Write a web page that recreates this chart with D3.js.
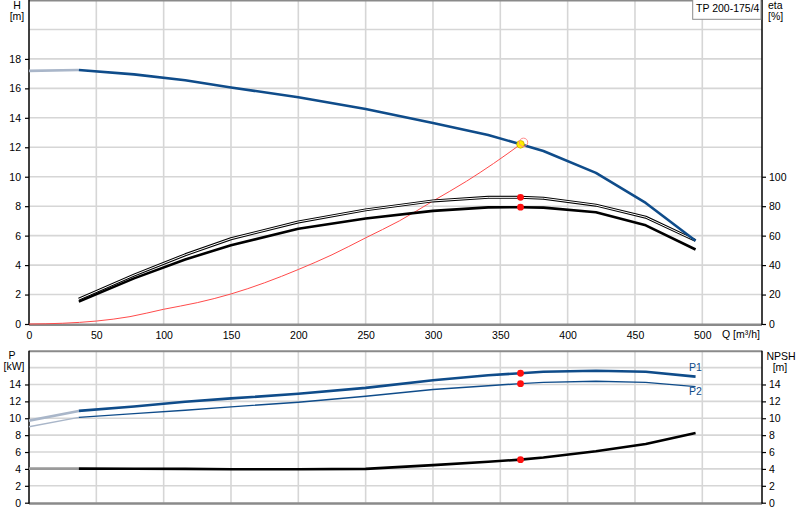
<!DOCTYPE html>
<html>
<head>
<meta charset="utf-8">
<script src="https://cdn.jsdelivr.net/npm/d3@7/dist/d3.min.js"></script>
<style>
  html, body { margin: 0; padding: 0; background: #fff; }
  svg text { font-family: "Liberation Sans", Arial, sans-serif; font-size: 10.5px; fill: #000; }
</style>
</head>
<body>
<div id="chart"></div>
<script>
// ---- data ----
const pumpName = 'TP 200-175/4';
const qTicks = [0, 50, 100, 150, 200, 250, 300, 350, 400, 450, 500];
const hTicks = [0, 2, 4, 6, 8, 10, 12, 14, 16, 18];
const etaTicks = [0, 20, 40, 60, 80, 100];
const pTicks = [0, 2, 4, 6, 8, 10, 12, 14];
const npshTicks = [0, 2, 4, 6, 8, 10, 12, 14];

// flow points of the pump curves (first point is the extrapolated part)
const qCurve = [0, 37, 78, 116, 150, 200, 250, 300, 341, 365, 382, 421, 458, 495];
const headValues = [17.19, 17.25, 16.95, 16.55, 16.06, 15.4, 14.6, 13.65, 12.84, 12.2, 11.75, 10.26, 8.22, 5.65];
const p1Values = [9.72, 10.87, 11.4, 11.95, 12.35, 12.9, 13.6, 14.5, 15.1, 15.33, 15.5, 15.62, 15.5, 14.93];
const p2Values = [9.0, 10.1, 10.55, 10.95, 11.35, 11.9, 12.6, 13.4, 13.85, 14.1, 14.25, 14.38, 14.25, 13.75];
const npshValues = [4.03, 4.03, 4.02, 4.0, 3.97, 3.96, 4.0, 4.45, 4.85, 5.1, 5.35, 6.1, 6.95, 8.26];

// efficiency curves start at the first real point
const qEta = [37, 78, 116, 150, 200, 250, 300, 341, 365, 382, 421, 458, 495];
const etaUpper = [16.9, 33.2, 47.0, 57.9, 69.3, 77.5, 83.6, 86.0, 86.0, 85.4, 80.7, 72.5, 56.7];
const etaLower = [15.2, 31.0, 43.8, 53.5, 64.7, 71.6, 76.8, 79.2, 79.3, 79.0, 75.9, 67.0, 50.6];

// system curve up to the duty point
const qSystem = [0, 25, 50, 75, 100, 125, 150, 175, 200, 225, 250, 275, 300, 325, 345, 365];
const hSystem = [0, 0.05, 0.2, 0.5, 1.0, 1.45, 2.04, 2.8, 3.7, 4.7, 5.85, 7.0, 8.35, 9.7, 10.9, 12.2];

// duty point
const dutyQ = 365;
const dutyH = 12.2;
const dutyEta = [86.0, 79.3];
const dutyP = [15.33, 14.1];
const dutyNpsh = 5.1;

// ---- layout ----
const width = 800, height = 520;
const left = 29, right = 762;
const topY0 = 324, topY1 = 0;
const botY0 = 502.7, botY1 = 350.7;

const blue = '#0f4c8a';
const blueLight = '#a9b6c9';
const grid = '#d6d6d6';
const axisGray = '#8a8a8a';
const fontFamily = '"Liberation Sans", Arial, sans-serif';

const svg = d3.select('#chart').append('svg')
  .attr('width', width)
  .attr('height', height);

// scales
const x = d3.scaleLinear().domain([0, 500]).range([left, 702.3]);
const yH = d3.scaleLinear().domain([0, 22]).range([topY0, topY1]);
const yEta = d3.scaleLinear().domain([0, 220]).range([topY0, topY1]);
const yP = d3.scaleLinear().domain([0, 18]).range([botY0, botY1]);
const yNpsh = d3.scaleLinear().domain([0, 18]).range([botY0, botY1]);

// ---- grids ----
function drawGrid(yScale, yVals, y0, y1) {
  const g = svg.append('g').attr('class', 'grid');
  g.selectAll('line.v')
    .data(qTicks.slice(1))
    .enter().append('line')
    .attr('x1', d => x(d)).attr('x2', d => x(d))
    .attr('y1', y1).attr('y2', y0)
    .attr('stroke', grid).attr('stroke-width', 1.6);
  g.selectAll('line.h')
    .data(yVals)
    .enter().append('line')
    .attr('x1', left).attr('x2', right)
    .attr('y1', d => yScale(d)).attr('y2', d => yScale(d))
    .attr('stroke', grid).attr('stroke-width', 1.6);
}
drawGrid(yH, [2, 4, 6, 8, 10, 12, 14, 16, 18, 20], topY0, topY1);
drawGrid(yP, [2, 4, 6, 8, 10, 12, 14, 16], botY0, botY1);

// ---- frames ----
function frame(y0, y1) {
  // top border
  svg.append('line').attr('x1', left).attr('x2', right)
    .attr('y1', y1 + 0.5).attr('y2', y1 + 0.5)
    .attr('stroke', axisGray).attr('stroke-width', 2);
  // bottom axis line
  svg.append('line').attr('x1', left).attr('x2', right)
    .attr('y1', y0 + 0.8).attr('y2', y0 + 0.8)
    .attr('stroke', axisGray).attr('stroke-width', 2.5);
}
frame(topY0, topY1);
frame(botY0, botY1);

// vertical axes via d3.axis
function vAxis(scale, ticks, xPos, orient) {
  const axis = (orient === 'left' ? d3.axisLeft(scale) : d3.axisRight(scale))
    .tickValues(ticks)
    .tickSize(4)
    .tickPadding(orient === 'left' ? 4 : 3)
    .tickFormat(d3.format('d'));
  const g = svg.append('g')
    .attr('transform', `translate(${xPos},0)`)
    .call(axis);
  g.select('.domain').remove();
  g.selectAll('line').attr('stroke', '#000').attr('stroke-width', 1.2);
  g.selectAll('text').attr('font-family', fontFamily)
    .attr('font-size', 10.5).attr('fill', '#000');
  return g;
}
vAxis(yH, hTicks, left, 'left');
vAxis(yEta, etaTicks, right, 'right');
vAxis(yP, pTicks, left, 'left');
vAxis(yNpsh, npshTicks, right, 'right');

// axis lines
[[left, topY1, topY0], [right, topY1, topY0], [left, botY1, botY0], [right, botY1, botY0]]
  .forEach(([xp, a, b]) => {
    svg.append('line').attr('x1', xp).attr('x2', xp).attr('y1', a).attr('y2', b + 1)
      .attr('stroke', '#000').attr('stroke-width', 1.5);
  });

// x axis labels
const xAxis = d3.axisBottom(x).tickValues(qTicks).tickSize(0).tickPadding(8)
  .tickFormat(d3.format('d'));
const gx = svg.append('g').attr('transform', `translate(0,${topY0})`).call(xAxis);
gx.select('.domain').remove();
gx.selectAll('text').attr('font-family', fontFamily)
  .attr('font-size', 10.5).attr('fill', '#000');

svg.append('text').attr('x', 722).attr('y', 337.5).text('Q [m³/h]');

// axis titles
svg.append('text').attr('x', 17).attr('y', 9).attr('text-anchor', 'middle').text('H');
svg.append('text').attr('x', 17).attr('y', 20).attr('text-anchor', 'middle').text('[m]');
svg.append('text').attr('x', 768).attr('y', 8.5).text('eta');
svg.append('text').attr('x', 768).attr('y', 20).text('[%]');
svg.append('text').attr('x', 12).attr('y', 358.5).attr('text-anchor', 'middle').text('P');
svg.append('text').attr('x', 14).attr('y', 369.5).attr('text-anchor', 'middle').text('[kW]');
svg.append('text').attr('x', 766.5).attr('y', 360).text('NPSH');
svg.append('text').attr('x', 780).attr('y', 370.5).attr('text-anchor', 'middle').text('[m]');

// legend box
svg.append('rect').attr('x', 692.7).attr('y', -1).attr('width', 68.3).attr('height', 20.3)
  .attr('fill', '#fff').attr('stroke', '#8c8c8c').attr('stroke-width', 1);
svg.append('text').attr('x', 696).attr('y', 12).text(pumpName);

// ---- curves ----
function drawCurve(qs, vs, yScale, color, w, curve) {
  const pts = qs.map((q, i) => [q, vs[i]]);
  const line = d3.line()
    .x(d => x(d[0]))
    .y(d => yScale(d[1]))
    .curve(curve || d3.curveLinear);
  return svg.append('path')
    .datum(pts)
    .attr('d', line)
    .attr('fill', 'none')
    .attr('stroke', color)
    .attr('stroke-width', w)
    .attr('stroke-linejoin', 'round');
}

// pump curve with the lighter extrapolated start
function pumpCurve(vs, yScale, color, light, w) {
  drawCurve(qCurve.slice(0, 2), vs.slice(0, 2), yScale, light, w);
  drawCurve(qCurve.slice(1), vs.slice(1), yScale, color, w);
}

// system curve (thin red)
drawCurve(qSystem, hSystem, yH, '#ff4b4b', 1, d3.curveMonotoneX);

// efficiency curves
drawCurve(qEta, etaUpper, yEta, '#000', 3);
drawCurve(qEta, etaUpper, yEta, '#fff', 1);
drawCurve(qEta, etaLower, yEta, '#000', 2.6);

// head
pumpCurve(headValues, yH, blue, blueLight, 2.6);

// power and npsh
pumpCurve(p1Values, yP, blue, blueLight, 2.6);
pumpCurve(p2Values, yP, blue, blueLight, 1.4);
pumpCurve(npshValues, yNpsh, '#000', '#9a9a9a', 2.6);

svg.append('text').attr('x', 689).attr('y', 370.7).style('fill', blue).text('P1');
svg.append('text').attr('x', 689).attr('y', 395).style('fill', blue).text('P2');

// ---- duty point markers ----
const dots = [
  [dutyQ, yEta(dutyEta[0])],
  [dutyQ, yEta(dutyEta[1])],
  [dutyQ, yP(dutyP[0])],
  [dutyQ, yP(dutyP[1])],
  [dutyQ, yNpsh(dutyNpsh)]
];
svg.selectAll('circle.duty')
  .data(dots)
  .enter().append('circle')
  .attr('class', 'duty')
  .attr('cx', d => x(d[0]))
  .attr('cy', d => d[1])
  .attr('r', 3.4)
  .attr('fill', '#ff1010');

svg.append('circle')
  .attr('cx', x(dutyQ)).attr('cy', yH(dutyH))
  .attr('r', 3.8)
  .attr('fill', '#ffee00')
  .attr('stroke', '#c9a800').attr('stroke-width', 0.8);
svg.append('circle')
  .attr('cx', x(dutyQ) + 3).attr('cy', yH(dutyH) - 2)
  .attr('r', 4.2)
  .attr('fill', 'none')
  .attr('stroke', '#ff8a8a').attr('stroke-width', 1);
</script>
</body>
</html>
